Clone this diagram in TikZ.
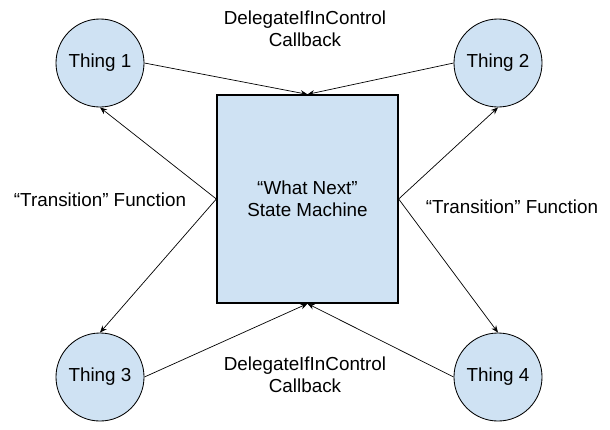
\documentclass[tikz,border=0pt]{standalone}
\usepackage{fontspec}
\setmainfont{Liberation Sans}
\usetikzlibrary{arrows.meta}
\definecolor{boxblue}{HTML}{CFE2F3}

\begin{document}
\begin{tikzpicture}[x=0.025cm, y=-0.025cm, >={Stealth[length=5pt,width=4pt]},
    thing/.style={circle, draw, fill=boxblue, line width=0.6pt, minimum size=2.2cm, inner sep=0pt},
    machine/.style={rectangle, draw, fill=boxblue, line width=0.9pt, minimum width=4.525cm, minimum height=5.2cm, align=center},
    lbl/.style={align=center},
    conn/.style={->, line width=0.5pt},
    font=\fontsize{13.4}{15.6}\selectfont]
    \useasboundingbox (0,0) rectangle (610,429);
    % 状態機械
    \node[machine] (box) at (307.5,199) {“What Next”\\State Machine};
    % 四つの Thing
    \node[thing] (t1) at (100,63) {Thing 1};
    \node[thing] (t2) at (498,63) {Thing 2};
    \node[thing] (t3) at (100,377) {Thing 3};
    \node[thing] (t4) at (498,377) {Thing 4};
    % コールバック
    \draw[conn] (t1.east) -- (box.north);
    \draw[conn] (t2.west) -- (box.north);
    \draw[conn] (t3.east) -- (box.south);
    \draw[conn] (t4.west) -- (box.south);
    % 遷移関数
    \draw[conn] (box.west) -- (t1.south);
    \draw[conn] (box.west) -- (t3.north);
    \draw[conn] (box.east) -- (t2.south);
    \draw[conn] (box.east) -- (t4.north);
    % ラベル
    \node[lbl] (cbtop) at (305,29) {DelegateIfInControl\\Callback};
    \node[lbl] (cbbot) at (305,375) {DelegateIfInControl\\Callback};
    \node[lbl] (trleft) at (100,200) {“Transition” Function};
    \node[lbl] (trright) at (512,207) {“Transition” Function};
\end{tikzpicture}
\end{document}
